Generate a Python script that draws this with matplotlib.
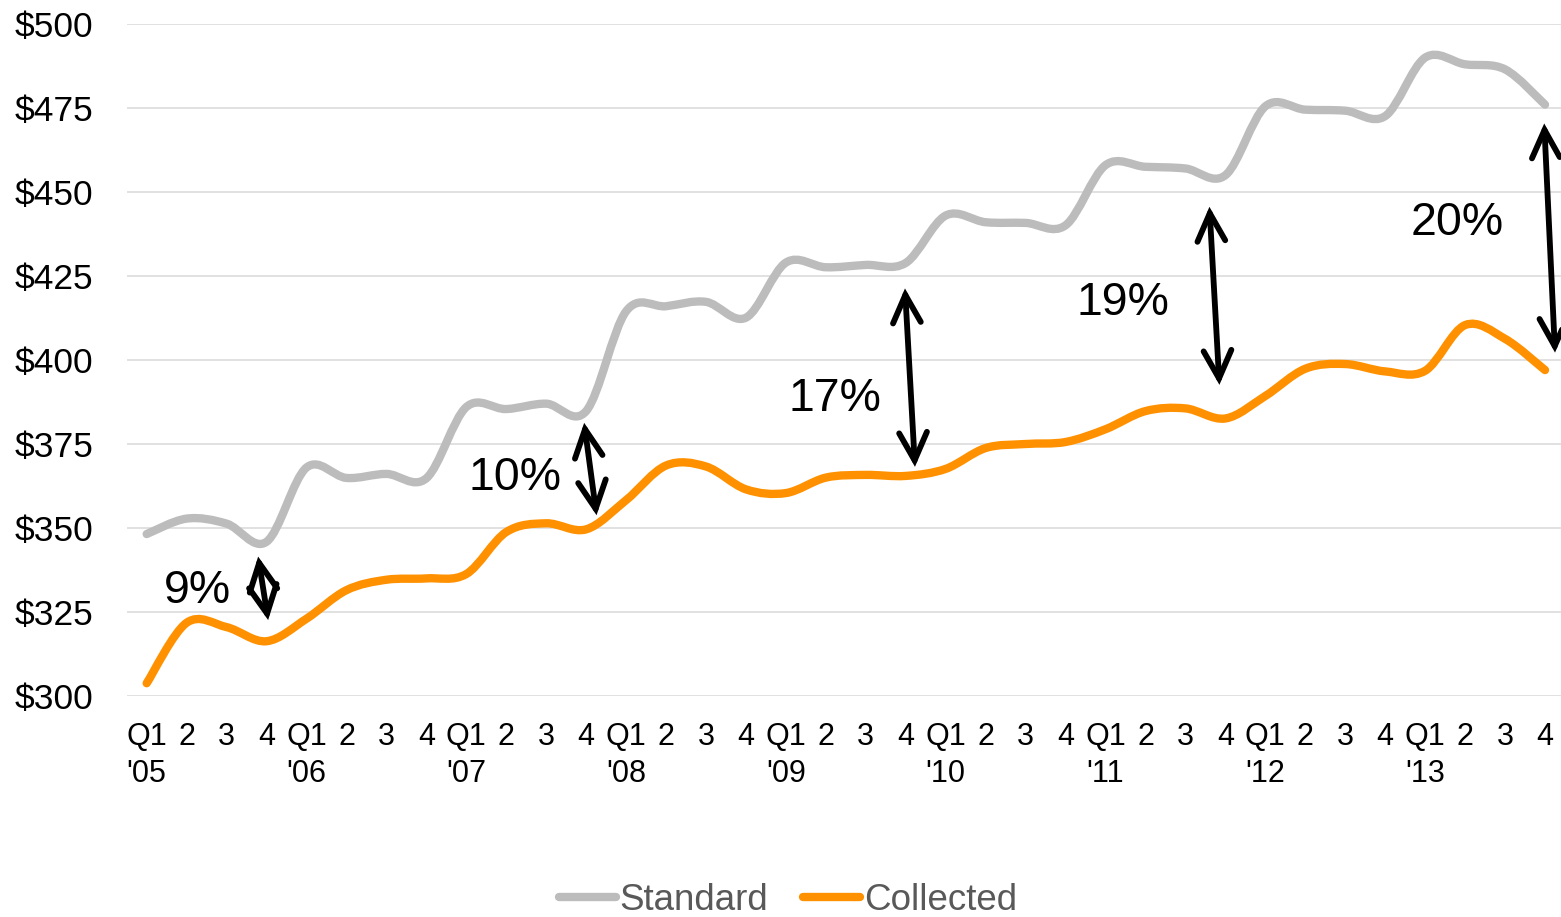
import numpy as np
import matplotlib
matplotlib.use('Agg')
import matplotlib.pyplot as plt
from matplotlib.path import Path
from matplotlib.patches import PathPatch, FancyArrowPatch, ArrowStyle
from matplotlib.lines import Line2D

plt.rcParams['font.family'] = ['Liberation Sans', 'DejaVu Sans']

years = ["'05", "'06", "'07", "'08", "'09", "'10", "'11", "'12", "'13"]
quarters = ['Q1', '2', '3', '4']

standard = [348.2, 352.8, 351.3, 345.9,
            368.0, 364.9, 366.1, 364.8,
            386.0, 385.4, 387.0, 384.8,
            414.5, 416.0, 417.3, 412.6,
            429.0, 427.6, 428.3, 428.9,
            443.0, 441.0, 440.8, 440.1,
            458.0, 457.5, 457.0, 455.0,
            475.5, 474.5, 474.2, 472.6,
            490.0, 488.0, 486.5, 476.0]

collected = [303.8, 321.8, 320.5, 316.3,
             323.0, 331.5, 334.6, 335.0,
             336.3, 348.8, 351.4, 349.6,
             358.3, 368.6, 368.3, 361.5,
             360.4, 365.0, 365.8, 365.5,
             367.6, 373.8, 375.0, 375.6,
             379.4, 384.8, 385.6, 382.6,
             389.3, 397.4, 398.8, 396.6,
             396.8, 410.4, 406.3, 397.0]

# gap annotations: label, label position, arrow top, arrow bottom
gap_labels = ['9%', '10%', '17%', '19%', '20%']
label_pos = [(1.26, 327.6), (9.21, 361.3), (17.23, 384.9), (24.44, 413.4), (32.81, 437.2)]
arrow_top = [(2.79, 341.5), (10.95, 381.3), (18.98, 421.3), (26.60, 445.6), (34.98, 470.4)]
arrow_bot = [(3.04, 322.6), (11.26, 353.8), (19.23, 368.2), (26.85, 392.6), (35.25, 402.2)]

gray = '#bcbcbc'
orange = '#ff9100'


def smooth_path(vals):
    # Excel-like smoothed line: cubic bezier through each point
    pts = np.column_stack([np.arange(len(vals)), vals]).astype(float)
    n = len(pts)
    verts = [pts[0]]
    codes = [Path.MOVETO]
    for i in range(n - 1):
        p0 = pts[i - 1] if i > 0 else pts[i]
        p1 = pts[i]
        p2 = pts[i + 1]
        p3 = pts[i + 2] if i + 2 < n else pts[i + 1]
        verts += [p1 + (p2 - p0) / 6, p2 - (p3 - p1) / 6, p2]
        codes += [Path.CURVE4] * 3
    return Path(verts, codes)


fig = plt.figure(figsize=(15.61, 9.17), dpi=100)
ax = fig.add_axes([126.7 / 1561, 1 - 696 / 917, (1565 - 126.7) / 1561, (696 - 24) / 917])

for vals, col in [(standard, gray), (collected, orange)]:
    ax.add_patch(PathPatch(smooth_path(vals), facecolor='none', edgecolor=col,
                           lw=6.0, capstyle='round', joinstyle='round', zorder=3))

style = ArrowStyle('<->', head_length=0.4, head_width=0.2)
for lab, lp, a, b in zip(gap_labels, label_pos, arrow_top, arrow_bot):
    ax.add_patch(FancyArrowPatch(a, b, arrowstyle=style, mutation_scale=50,
                                 color='black', lw=4.2, shrinkA=0, shrinkB=0,
                                 joinstyle='miter', zorder=4, clip_on=False))
    ax.text(lp[0], lp[1], lab, fontsize=33.5, ha='center', va='baseline', zorder=5)

ax.set_xlim(-0.5, 35.5)
ax.set_ylim(300, 500)
ax.set_yticks(np.arange(300, 501, 25))
ax.set_yticklabels(['$%d' % v for v in range(300, 501, 25)], fontsize=25.5)

xt = np.arange(36)
xl = []
for y in years:
    for q in quarters:
        xl.append(q + '\n' + y if q == 'Q1' else q)
ax.set_xticks(xt)
ax.set_xticklabels(xl, fontsize=22, linespacing=1.32)
ax.tick_params(axis='both', length=0)
ax.tick_params(axis='x', pad=18.5)
ax.tick_params(axis='y', pad=24)

ax.grid(axis='y', color='#d9d9d9', lw=1.1)
ax.set_axisbelow(True)
for s in ax.spines.values():
    s.set_visible(False)

handles = [Line2D([], [], color=gray, lw=6.0, solid_capstyle='round'),
           Line2D([], [], color=orange, lw=6.0, solid_capstyle='round')]
fig.legend(handles, ['Standard', 'Collected'], loc='center', ncol=2,
           bbox_to_anchor=(788 / 1561, 1 - 900 / 917), frameon=False,
           fontsize=26.5, labelcolor='#595959', handlelength=1.55,
           handletextpad=0.1, columnspacing=0.95)

fig.savefig('out.png', dpi=100)
